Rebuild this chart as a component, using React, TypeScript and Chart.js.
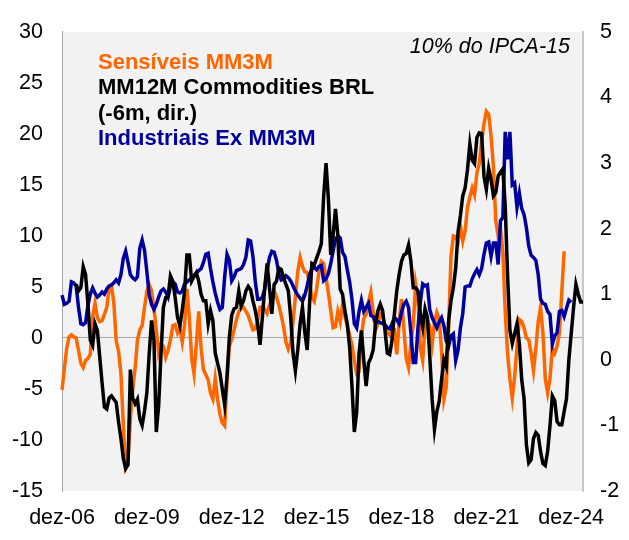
import React, { useEffect, useRef } from "react";
import { Chart, registerables } from "chart.js";

Chart.register(...registerables);

const MONTH_NAMES = ["jan", "fev", "mar", "abr", "mai", "jun", "jul", "ago", "set", "out", "nov", "dez"];
const START_YEAR = 2006;
const START_MONTH = 11; // dez
const N_MONTHS = 222;

const TICK_LABELS = ["dez-06", "dez-09", "dez-12", "dez-15", "dez-18", "dez-21", "dez-24"];

const LEFT_TICKS = { min: -15, max: 30, step: 5 };
const RIGHT_TICKS = { min: -2, max: 5, step: 1 };

// Sensíveis MM3M (left axis)
const SENSIVEIS = [
  -5.1, -3.0, -1.0, 0.1, 0.3, 0.1, 0.0, -1.2, -2.5, -2.9, -2.2, -2.0,
  -1.6, 2.1, 3.4, 2.0, 1.6, 1.7, 2.3, 3.0, 4.9, 5.1, 3.4, -0.3,
  -1.3, -3.5, -8.5, -12.6, -12.0, -8.0, -5.0, -3.0, -0.2, 0.8, 1.2, 3.0,
  4.6, 5.2, 4.6, 2.9, 0.8, -1.5, -0.6, -0.8, -1.9, -1.2, -0.2, 1.2,
  1.3, 0.5, 1.0, -0.4, 1.3, 4.8, 2.0, -2.0, -3.5, -0.6, 2.6, -1.0,
  -3.1, -3.6, -4.1, -5.4, -6.0, -4.0, -6.0, -7.5, -8.3, -8.6, -4.2, -0.8,
  -0.1, 0.8, 1.8, 2.6, 2.9, 3.0, 2.6, 2.2, 1.5, 0.8, 0.9, 1.8,
  3.0, 3.0, 2.8, 2.4, 3.2, 3.8, 4.6, 4.0, 3.2, 2.2, 1.1, -0.4,
  -1.1, -0.5, 1.6, 4.0, 6.5, 7.9, 7.0, 6.5, 6.4, 5.4, 4.0, 3.6,
  4.8, 6.5, 7.5, 7.3, 5.9, 4.4, 2.7, 1.0, 1.1, 2.6, 1.6, 3.3,
  2.1, 1.2, 0.3, -0.7, -2.2, -3.5, -3.3, 0.2, 1.9, 2.3, 3.5, 4.5,
  2.5, 0.8, 1.4, 2.4, 2.1, 1.2, 0.5, 0.3, 0.8, 0.8, -1.6, 1.5,
  3.8, 1.0, -2.0, -2.9, -0.5, 1.3, 5.3, 3.8, -1.0, -2.2, 1.2, 1.8,
  1.1, -0.6, 1.5, 2.5, 1.9, -1.2, -6.0, -4.8, 1.1, 8.0, 10.0, 9.9,
  9.4, 11.0, 9.5, 10.5, 12.8, 13.8, 14.7, 14.0, 16.2, 17.1, 19.3, 21.0,
  22.2, 21.9, 19.8, 16.8, 11.5, 10.0, 10.7, 8.5, 2.6, -1.5, -4.0, -5.9,
  -3.8, -0.9, 1.8, 1.6, 1.0, 0.0, -0.2, -1.5, -3.2, -1.0, 1.6, 3.0,
  0.5, -4.0, -5.4, -4.0, -1.0, -1.5, -0.8, 0.5, 4.5, 8.5,
];

// Industriais Ex MM3M (left axis)
const INDUSTRIAIS = [
  4.2, 3.3, 3.4, 3.6, 5.5, 5.4, 5.1, 3.0, 1.4, 1.3, 1.5, 3.2,
  4.3, 4.9, 4.4, 4.0, 4.2, 4.5, 4.3, 4.8, 5.1, 5.2, 5.4, 5.7,
  5.4, 6.2, 7.8, 8.5, 7.4, 6.2, 5.9, 5.7, 6.0, 8.8, 9.6, 8.6,
  6.5, 4.2, 3.3, 2.8, 3.3, 4.0, 4.6, 4.8, 4.5, 4.0, 5.1, 5.5,
  5.3, 4.5, 4.4, 4.6, 5.3, 5.5, 5.7, 5.9, 6.1, 6.4, 6.6, 6.8,
  7.4, 8.2, 8.3, 6.8, 5.5, 4.4, 3.5, 2.8, 3.0, 6.0, 8.2, 7.6,
  5.6, 6.0, 6.6, 6.7, 6.8, 7.2, 7.9, 9.6, 9.5, 8.0, 5.5, 3.8,
  3.8, 4.0, 4.8, 6.6, 7.9, 8.5, 8.4, 7.6, 6.3, 5.7, 5.8, 6.1,
  5.9, 5.6, 5.1, 4.6, 4.2, 3.9, 3.6, 4.2, 5.1, 6.2, 6.8, 6.9,
  6.7, 7.0, 7.1, 5.6, 5.8, 6.3, 7.3, 8.5, 9.7, 10.0, 9.8, 8.4,
  8.0, 6.7, 5.5, 3.8, 1.4, 1.0, 2.6, 3.7, 2.6, 3.0, 3.4, 2.2,
  2.1, 1.5, 1.6, 1.5, 1.4, 1.3, 1.0, 0.9, 1.4, 2.0, 1.8, 1.4,
  2.5, 3.3, 3.6, 3.0, 0.5, -2.4, -2.4, 1.0, 3.5, 5.3, 5.1, 5.2,
  2.8, 2.0, 1.5, 1.0, 1.6, 2.0, 1.2, -0.3, -0.8, 0.2, 0.4, -2.2,
  -1.2, 1.0, 2.4, 5.0, 5.1, 5.1, 5.8, 6.3, 6.7, 6.2, 6.8, 8.2,
  9.3, 9.4, 8.0, 9.3, 9.3, 7.2, 11.5, 11.8, 20.2, 17.5, 20.2, 15.0,
  15.2, 12.8, 14.2, 12.7, 12.1, 10.8, 9.0, 8.1, 7.9, 7.6, 6.2, 3.8,
  3.4, 3.3, 2.6, 2.3, -0.6, 0.2, 0.5, 2.6, 2.7, 2.1, 2.9, 3.7,
  3.5,
];

// MM12M Commodities BRL (-6m, right axis)
const COMMODITIES = [
  null, null, null, null, null, null, 1.15, 1.05, 1.1, 1.42, 1.3, 0.85,
  0.3, 0.22, 0.55, 0.45, 0.05, -0.35, -0.72, -0.75, -0.58, -0.55, -0.6, -0.65,
  -0.95, -1.2, -1.5, -1.66, -1.6, -0.15, -0.59, -0.67, -0.6, -0.9, -1.0, -0.78,
  -0.5, 0.1, 0.6, 0.3, -1.1, -0.7, 0.1, 0.8, 0.95, 0.97, 1.28, 1.2,
  0.95, 0.65, 0.52, 0.75, 1.05, 1.6, 1.6, 1.2, 1.27, 1.33, 1.2, 1.0,
  0.9, 0.9, 0.55, 0.75, 0.6, 0.1, -0.05, -0.2, -0.45, -0.69, -0.25, 0.35,
  0.68, 0.78, 0.8, 1.05, 0.82, 0.9, 1.05, 1.12, 1.07, 0.9, 0.75, 0.55,
  0.23, 0.65, 1.1, 1.47, 1.1, 0.7, 1.15, 1.2, 1.4, 1.38, 1.25, 1.15,
  1.05, 0.65, 0.1, -0.17, 0.15, 0.55, 0.8, 0.42, 0.15, 0.85, 1.47, 1.45,
  1.55, 1.65, 1.77, 2.5, 3.0, 2.45, 1.6, 1.9, 2.3, 1.9, 1.08, 1.0,
  0.75, 0.55, 0.2, -0.4, -1.1, -0.8, 0.1, 0.45, 0.0, -0.4, -0.05, 0.03,
  0.15, 0.55, 0.75, 0.85, 0.75, 0.45, 0.1, 0.08, 0.3, 0.7, 1.05, 1.3,
  1.5, 1.6, 1.62, 1.75, 1.5, 1.1, 1.1, 1.05, 0.7, 0.5, 0.78, 0.65,
  0.05, -0.6, -1.06, -0.79, -0.63, -0.3, 0.0, -0.1, 0.6, 0.9, 1.1, 1.4,
  1.95, 2.2, 2.5, 2.62, 2.9, 3.29, 3.04, 2.99, 3.39, 3.46, 3.45, 2.8,
  2.6, 2.92, 2.75, 2.5, 2.55, 2.8, 2.86, 2.91, 2.35, 1.3, 0.45, 0.25,
  0.4, 0.55, 0.25, -0.3, -0.59, -1.3, -1.57, -1.52, -1.2, -1.11, -1.15, -1.4,
  -1.58, -1.61, -1.4, -1.0, -0.55, -0.62, -0.94, -0.99, -0.99, -0.79, -0.59, 0.0,
  0.4, 0.8, 1.15, 1.0, 0.88, 0.88,
];

const COLOR_ORANGE = "#FF6600";
const COLOR_BLACK = "#000000";
const COLOR_BLUE = "#0000A0";
const FONT_FAMILY = '"Liberation Sans", Arial, Helvetica, sans-serif';

function buildMonthLabels(): string[] {
  const out: string[] = [];
  for (let i = 0; i < N_MONTHS; i++) {
    const m = (START_MONTH + i) % 12;
    const y = START_YEAR + Math.floor((START_MONTH + i) / 12);
    out.push(MONTH_NAMES[m] + "-" + String(y % 100).padStart(2, "0"));
  }
  return out;
}

function padTo<T>(arr: T[], n: number): (T | null)[] {
  const out: (T | null)[] = arr.slice();
  while (out.length < n) out.push(null);
  return out;
}

const bgPlugin = {
  id: "plotBg",
  beforeDraw(chart: any) {
    const { ctx, chartArea } = chart;
    ctx.save();
    ctx.fillStyle = "#F2F2F2";
    ctx.fillRect(chartArea.left, chartArea.top, chartArea.right - chartArea.left, chartArea.bottom - chartArea.top);
    ctx.restore();
  },
};

const textPlugin = {
  id: "annotText",
  afterDraw(chart: any) {
    const { ctx } = chart;
    ctx.save();
    ctx.textBaseline = "alphabetic";
    ctx.textAlign = "left";
    ctx.font = "bold 22px " + FONT_FAMILY;
    ctx.fillStyle = COLOR_ORANGE;
    ctx.fillText("Sensíveis MM3M", 98, 69);
    ctx.fillStyle = COLOR_BLACK;
    ctx.fillText("MM12M Commodities BRL", 98, 94);
    ctx.fillText("(-6m, dir.)", 98, 119.5);
    ctx.fillStyle = COLOR_BLUE;
    ctx.fillText("Industriais Ex MM3M", 98, 145);
    ctx.font = "italic 21.5px " + FONT_FAMILY;
    ctx.fillStyle = "#000000";
    ctx.textAlign = "right";
    ctx.fillText("10% do IPCA-15", 570, 53);
    ctx.restore();
  },
};

export default function App() {
  const canvasRef = useRef<HTMLCanvasElement | null>(null);

  useEffect(() => {
    if (!canvasRef.current) return;
    const labels = buildMonthLabels();
    const tickFont = { family: FONT_FAMILY, size: 21.5 };
    const chart = new Chart(canvasRef.current, {
      type: "line",
      data: {
        labels,
        datasets: [
          {
            label: "Sensíveis MM3M",
            data: padTo(SENSIVEIS, N_MONTHS),
            borderColor: COLOR_ORANGE,
            borderWidth: 3.5,
            pointRadius: 0,
            tension: 0,
            yAxisID: "y",
            order: 3,
          },
          {
            label: "MM12M Commodities BRL (-6m, dir.)",
            data: padTo(COMMODITIES, N_MONTHS),
            borderColor: COLOR_BLACK,
            borderWidth: 3.5,
            pointRadius: 0,
            tension: 0,
            yAxisID: "y1",
            order: 1,
          },
          {
            label: "Industriais Ex MM3M",
            data: padTo(INDUSTRIAIS, N_MONTHS),
            borderColor: COLOR_BLUE,
            borderWidth: 3.5,
            pointRadius: 0,
            tension: 0,
            yAxisID: "y",
            order: 2,
          },
        ],
      },
      options: {
        responsive: false,
        animation: false,
        devicePixelRatio: 1,
        layout: { padding: { top: 22, left: 0, right: 0, bottom: 0 } },
        plugins: {
          legend: { display: false },
          tooltip: { enabled: false },
        },
        scales: {
          x: {
            type: "category",
            offset: false,
            grid: { display: false, drawTicks: false },
            border: { display: false },
            ticks: {
              autoSkip: false,
              maxRotation: 0,
              minRotation: 0,
              padding: 14,
              color: "#000000",
              font: tickFont,
              callback: function (this: any, value: any) {
                const lab = this.getLabelForValue(value);
                return TICK_LABELS.includes(lab) ? lab : "";
              },
            },
            afterFit: (scale: any) => {
              scale.height = 49;
            },
          },
          y: {
            position: "left",
            min: LEFT_TICKS.min,
            max: LEFT_TICKS.max,
            grid: {
              drawTicks: false,
              color: (ctx: any) => (ctx.tick && ctx.tick.value === 0 ? "#A6A6A6" : "rgba(0,0,0,0)"),
              lineWidth: 1,
            },
            border: { display: true, color: "#A6A6A6", width: 1 },
            ticks: {
              stepSize: LEFT_TICKS.step,
              padding: 19,
              color: "#000000",
              font: tickFont,
            },
            afterFit: (scale: any) => {
              scale.width = 62;
            },
          },
          y1: {
            position: "right",
            min: RIGHT_TICKS.min,
            max: RIGHT_TICKS.max,
            grid: { display: false, drawTicks: false },
            border: { display: true, color: "#C8C8C8", width: 2 },
            ticks: {
              stepSize: RIGHT_TICKS.step,
              padding: 17,
              color: "#000000",
              font: tickFont,
            },
            afterFit: (scale: any) => {
              scale.width = 46;
            },
          },
        },
      },
      plugins: [bgPlugin, textPlugin],
    });
    return () => chart.destroy();
  }, []);

  return (
    <div style={{ position: "fixed", left: 0, top: 0, width: 629, height: 540, background: "#FFFFFF" }}>
      <canvas ref={canvasRef} width={629} height={540} style={{ display: "block", width: 629, height: 540 }} />
    </div>
  );
}
